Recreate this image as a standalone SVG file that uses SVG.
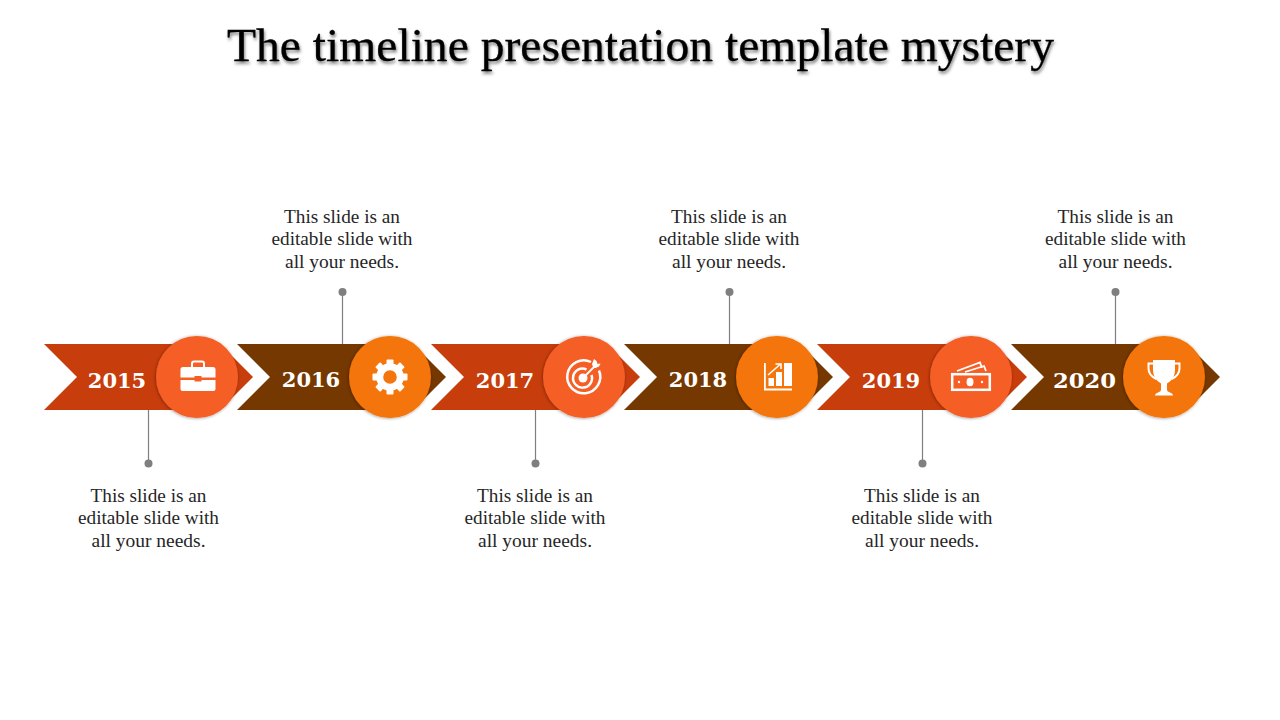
<svg xmlns="http://www.w3.org/2000/svg" width="1280" height="720" viewBox="0 0 1280 720">
<style>
.title{font-family:"Liberation Serif",serif;font-size:46px;fill:#000;text-anchor:middle;stroke:#000;stroke-width:.3px}
.yr{font-family:"DejaVu Serif",serif;font-weight:bold;font-size:21px;fill:#fff;text-anchor:middle}
.d{font-family:"Liberation Serif",serif;font-size:19px;fill:#262626;text-anchor:middle}
.red{fill:#C73D0C}.brown{fill:#753800}
.c1{fill:#F55F27;filter:url(#s)}.c2{fill:#F57507;filter:url(#s)}
.ln{stroke:#7f7f7f;stroke-width:1.2;fill:none}.dot{fill:#7f7f7f}
.ic{fill:#fff}.ol{fill:none;stroke:#fff}
</style>
<defs>
<filter id="s" x="-20%" y="-20%" width="140%" height="140%"><feDropShadow dx="-0.500" dy="0.500" stdDeviation="1.800" flood-color="#000" flood-opacity="0.4"/></filter>
<filter id="ts" x="-5%" y="-30%" width="110%" height="170%"><feDropShadow dx="1" dy="2.500" stdDeviation="1.500" flood-color="#000" flood-opacity="0.5"/></filter>
</defs>
<text class="title" x="640.5" y="61" textLength="827" lengthAdjust="spacingAndGlyphs" filter="url(#ts)">The timeline presentation template mystery</text>
<g id="connectors">
<path class="ln" d="M148.500 410V463M342.500 292V344M535.500 410V463M729.500 292V344M922.500 410V463M1115.500 292V344"/>
<circle class="dot" cx="148.500" cy="463.500" r="4"/><circle class="dot" cx="342.500" cy="292" r="4"/><circle class="dot" cx="535.500" cy="463.500" r="4"/><circle class="dot" cx="729.500" cy="292" r="4"/><circle class="dot" cx="922.500" cy="463.500" r="4"/><circle class="dot" cx="1115.500" cy="292" r="4"/>
</g>
<g id="node-2015">
<polygon class="red" points="44,344 220,344 253,377 220,410 44,410 77,377"/>
<circle class="c1" cx="197" cy="377" r="41"/>
<text class="yr" x="117" y="388">2015</text>
<path class="ol" stroke-width="2" d="M192 367v-3.500q0-2 2-2h8q2 0 2 2v3.500"/>
<path class="ic" d="M182 367h31q2.500 0 2.500 2.500v8h-14v-1.500h-7v1.500h-14v-8q0-2.500 2.500-2.500zM180.500 380h14v1.500h7v-1.500h14v9q0 2-2 2h-31q-2 0-2-2z"/>
<text class="d" x="148.500" y="502" textLength="116" lengthAdjust="spacingAndGlyphs">This slide is an</text>
<text class="d" x="148.500" y="524" textLength="141" lengthAdjust="spacingAndGlyphs">editable slide with</text>
<text class="d" x="148.500" y="547" textLength="114" lengthAdjust="spacingAndGlyphs">all your needs.</text>
</g>
<g id="node-2016">
<polygon class="brown" points="237,344 413,344 446,377 413,410 237,410 270,377"/>
<circle class="c2" cx="390" cy="377" r="41"/>
<text class="yr" x="311" y="387">2016</text>
<circle class="ol" cx="390" cy="377" r="10.300" stroke-width="7"/>
<g class="ic"><rect x="386.500" y="359.500" width="7" height="6" rx="1"/><rect x="386.500" y="388.500" width="7" height="6" rx="1"/><rect x="372.500" y="373.500" width="6" height="7" rx="1"/><rect x="401.500" y="373.500" width="6" height="7" rx="1"/>
<rect x="386.500" y="359.500" width="7" height="6" rx="1" transform="rotate(45 390 377)"/><rect x="386.500" y="359.500" width="7" height="6" rx="1" transform="rotate(135 390 377)"/><rect x="386.500" y="359.500" width="7" height="6" rx="1" transform="rotate(225 390 377)"/><rect x="386.500" y="359.500" width="7" height="6" rx="1" transform="rotate(315 390 377)"/></g>
<text class="d" x="342" y="223" textLength="116" lengthAdjust="spacingAndGlyphs">This slide is an</text>
<text class="d" x="342" y="245" textLength="141" lengthAdjust="spacingAndGlyphs">editable slide with</text>
<text class="d" x="342" y="268" textLength="114" lengthAdjust="spacingAndGlyphs">all your needs.</text>
</g>
<g id="node-2017">
<polygon class="red" points="431,344 607,344 640,377 607,410 431,410 464,377"/>
<circle class="c1" cx="584" cy="377" r="41"/>
<text class="yr" x="505" y="388">2017</text>
<path class="ol" stroke-width="2.500" d="M591 362A16.500 16.500 0 1 0 599 370.500M586.500 369.500A9.500 9.500 0 1 0 591.500 375"/>
<circle class="ic" cx="583" cy="378" r="4.500"/>
<path class="ol" stroke-width="1.800" d="M583 378L596 365"/>
<path class="ic" d="M592 364l2-5 2.500 2 1 3 3-.5-1.500 3-3.500 1.500-2.500-1z"/>
<text class="d" x="535" y="502" textLength="116" lengthAdjust="spacingAndGlyphs">This slide is an</text>
<text class="d" x="535" y="524" textLength="141" lengthAdjust="spacingAndGlyphs">editable slide with</text>
<text class="d" x="535" y="547" textLength="114" lengthAdjust="spacingAndGlyphs">all your needs.</text>
</g>
<g id="node-2018">
<polygon class="brown" points="624,344 800,344 833,377 800,410 624,410 657,377"/>
<circle class="c2" cx="777" cy="377" r="41"/>
<text class="yr" x="698" y="387">2018</text>
<path class="ic" d="M764 363h1.800v25.500H792v2H764z"/>
<rect class="ic" x="768.500" y="378" width="5.500" height="8"/><rect class="ic" x="776" y="372" width="6" height="14"/><rect class="ic" x="784" y="363" width="8" height="23"/>
<path class="ol" stroke-width="1.500" d="M768 375L780 364.500M775.500 364h5.500v5"/>
<text class="d" x="729" y="223" textLength="116" lengthAdjust="spacingAndGlyphs">This slide is an</text>
<text class="d" x="729" y="245" textLength="141" lengthAdjust="spacingAndGlyphs">editable slide with</text>
<text class="d" x="729" y="268" textLength="114" lengthAdjust="spacingAndGlyphs">all your needs.</text>
</g>
<g id="node-2019">
<polygon class="red" points="817,344 994,344 1027,377 994,410 817,410 850,377"/>
<circle class="c1" cx="971" cy="377" r="41"/>
<text class="yr" x="891" y="388">2019</text>
<rect class="ol" stroke-width="2.500" x="952.200" y="374.200" width="37.600" height="15.600"/>
<ellipse class="ic" cx="970" cy="382" rx="3.500" ry="4.200"/><circle class="ic" cx="959" cy="382" r="1.200"/><circle class="ic" cx="982" cy="382" r="1.200"/>
<path class="ol" stroke-width="1.800" d="M957 371L980 362.500L982 368M965 372L984 366L986 371"/>
<text class="d" x="922" y="502" textLength="116" lengthAdjust="spacingAndGlyphs">This slide is an</text>
<text class="d" x="922" y="524" textLength="141" lengthAdjust="spacingAndGlyphs">editable slide with</text>
<text class="d" x="922" y="547" textLength="114" lengthAdjust="spacingAndGlyphs">all your needs.</text>
</g>
<g id="node-2020">
<polygon class="brown" points="1011,344 1187,344 1220,377 1187,410 1011,410 1044,377"/>
<circle class="c2" cx="1164" cy="377" r="41"/>
<text class="yr" x="1084.500" y="388" textLength="63" lengthAdjust="spacingAndGlyphs">2020</text>
<path class="ic" d="M1153 360h22v10q0 9-8 13.500v6q0 2 2 2.500l2 1q2 .5 2 2.500h-18q0-2 2-2.500l2-1q2-.5 2-2.500v-6q-8-4.500-8-13.500z"/>
<path class="ol" stroke-width="2" d="M1153 363.500h-4.500v5q0 7 8 10.500M1175 363.500h4.500v5q0 7-8 10.500"/>
<text class="d" x="1115.500" y="223" textLength="116" lengthAdjust="spacingAndGlyphs">This slide is an</text>
<text class="d" x="1115.500" y="245" textLength="141" lengthAdjust="spacingAndGlyphs">editable slide with</text>
<text class="d" x="1115.500" y="268" textLength="114" lengthAdjust="spacingAndGlyphs">all your needs.</text>
</g>
</svg>
